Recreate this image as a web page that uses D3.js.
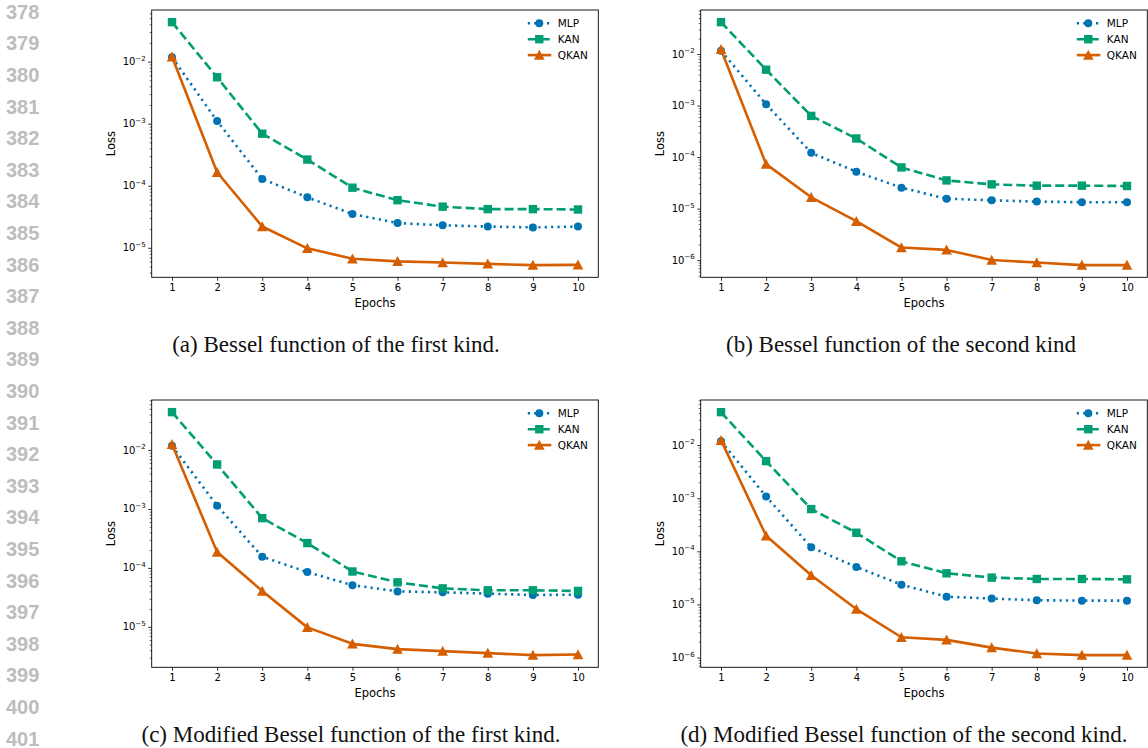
<!DOCTYPE html>
<html>
<head>
<meta charset="utf-8">
<script src="https://cdn.jsdelivr.net/npm/d3@7"></script>
<style>
  body { margin: 0; background: #fff; }
  svg { display: block; }
</style>
</head>
<body>
<div id="fig"></div>
<script>
const epochs = [1, 2, 3, 4, 5, 6, 7, 8, 9, 10];
const seriesNames = ["MLP", "KAN", "QKAN"];

// (a) Bessel, first kind
const mlpA  = [1.18e-2, 1.1e-3, 1.29e-4, 6.5e-5, 3.5e-5, 2.5e-5, 2.3e-5, 2.2e-5, 2.13e-5, 2.2e-5];
const kanA  = [4.33e-2, 5.6e-3, 6.9e-4, 2.64e-4, 9.3e-5, 5.85e-5, 4.6e-5, 4.2e-5, 4.2e-5, 4.14e-5];
const qkanA = [1.2e-2, 1.65e-4, 2.2e-5, 9.8e-6, 6.67e-6, 6.04e-6, 5.8e-6, 5.5e-6, 5.25e-6, 5.3e-6];
// (b) Bessel, second kind
const mlpB  = [1.16e-2, 1.06e-3, 1.21e-4, 5.2e-5, 2.55e-5, 1.56e-5, 1.45e-5, 1.37e-5, 1.33e-5, 1.33e-5];
const kanB  = [4.16e-2, 4.97e-3, 6.3e-4, 2.3e-4, 6.3e-5, 3.53e-5, 2.96e-5, 2.79e-5, 2.79e-5, 2.75e-5];
const qkanB = [1.23e-2, 7.3e-5, 1.66e-5, 5.7e-6, 1.76e-6, 1.58e-6, 1.01e-6, 9.0e-7, 8.0e-7, 8.0e-7];
// (c) modified Bessel, first kind
const mlpC  = [1.18e-2, 1.14e-3, 1.55e-4, 8.5e-5, 5.1e-5, 4.0e-5, 3.85e-5, 3.66e-5, 3.47e-5, 3.52e-5];
const kanC  = [4.4e-2, 5.7e-3, 7.0e-4, 2.64e-4, 8.7e-5, 5.7e-5, 4.5e-5, 4.17e-5, 4.17e-5, 4.07e-5];
const qkanC = [1.25e-2, 1.86e-4, 4.07e-5, 9.8e-6, 5.15e-6, 4.19e-6, 3.88e-6, 3.58e-6, 3.31e-6, 3.4e-6];
// (d) modified Bessel, second kind
const mlpD  = [1.19e-2, 1.08e-3, 1.19e-4, 5.07e-5, 2.36e-5, 1.40e-5, 1.29e-5, 1.2e-5, 1.18e-5, 1.18e-5];
const kanD  = [4.18e-2, 5.0e-3, 6.25e-4, 2.24e-4, 6.5e-5, 3.86e-5, 3.2e-5, 3.02e-5, 3.02e-5, 2.97e-5];
const qkanD = [1.24e-2, 1.97e-4, 3.54e-5, 8.2e-6, 2.41e-6, 2.15e-6, 1.54e-6, 1.19e-6, 1.11e-6, 1.11e-6];

const captions = [
  "(a) Bessel function of the first kind.",
  "(b) Bessel function of the second kind",
  "(c) Modified Bessel function of the first kind.",
  "(d) Modified Bessel function of the second kind."
];
const lineNumbers = d3.range(378, 402);

const colors = { MLP: "#0173B2", KAN: "#029E73", QKAN: "#D55E00" };
const dashes = { MLP: "2.2,4.2", KAN: "9,4", QKAN: null };

const W = 1148, H = 748;
const font = "'DejaVu Sans', sans-serif";

const svg = d3.select("#fig").append("svg")
  .attr("width", W).attr("height", H);
svg.append("rect").attr("width", W).attr("height", H).attr("fill", "#fff");

// line numbers down the left margin
svg.append("g").selectAll("text").data(lineNumbers).enter().append("text")
  .attr("x", 6)
  .attr("y", (d, i) => 11.7 + i * 31.6)
  .attr("dominant-baseline", "central")
  .attr("font-family", "'Liberation Sans', Arial, sans-serif")
  .attr("font-weight", "bold")
  .attr("font-size", 20)
  .attr("fill", "#bdbdbd")
  .text(d => d);

const panels = [
  { series: [mlpA, kanA, qkanA], left: 151.7, top: 10,  right: 598.3,  bottom: 277.3, capX: 336, capY: 352 },
  { series: [mlpB, kanB, qkanB], left: 700.7, top: 10,  right: 1147.3, bottom: 277.3, capX: 901, capY: 352 },
  { series: [mlpC, kanC, qkanC], left: 151.7, top: 400, right: 598.3,  bottom: 667.3, capX: 351, capY: 742 },
  { series: [mlpD, kanD, qkanD], left: 700.7, top: 400, right: 1147.3, bottom: 667.3, capX: 904, capY: 742 }
];

const supers = { "-1": "\u22121", "-2": "\u22122", "-3": "\u22123", "-4": "\u22124", "-5": "\u22125", "-6": "\u22126", "-7": "\u22127" };

panels.forEach((p, pi) => {
  const g = svg.append("g");

  // matplotlib-style autoscale: 5% margins (log space on y)
  const x = d3.scaleLinear().domain([0.55, 10.45]).range([p.left, p.right]);
  const all = p.series.flat();
  const lo = Math.log10(d3.min(all)), hi = Math.log10(d3.max(all));
  const pad = (hi - lo) * 0.05;
  const y = d3.scaleLog().domain([Math.pow(10, lo - pad), Math.pow(10, hi + pad)])
    .range([p.bottom, p.top]);

  const [d0, d1] = y.domain();
  const majors = [], minors = [];
  for (let e = Math.floor(Math.log10(d0)); e <= Math.ceil(Math.log10(d1)); e++) {
    for (let m = 1; m < 10; m++) {
      const v = m * Math.pow(10, e);
      if (v < d0 || v > d1) continue;
      (m === 1 ? majors : minors).push(v);
    }
  }

  // x axis
  const xAxis = g.append("g")
    .attr("transform", `translate(0,${p.bottom})`)
    .call(d3.axisBottom(x).tickValues(epochs).tickSize(3.5).tickPadding(3));
  xAxis.select(".domain").remove();
  xAxis.selectAll("text").attr("font-family", font).attr("font-size", 10).attr("fill", "#000");
  xAxis.selectAll("line").attr("stroke", "#000").attr("stroke-width", 0.8);

  // y axis, minor then major ticks
  const yMinor = g.append("g")
    .attr("transform", `translate(${p.left},0)`)
    .call(d3.axisLeft(y).tickValues(minors).tickSize(2).tickFormat(""));
  yMinor.select(".domain").remove();
  yMinor.selectAll("line").attr("stroke", "#000").attr("stroke-width", 0.6);

  const yMajor = g.append("g")
    .attr("transform", `translate(${p.left},0)`)
    .call(d3.axisLeft(y).tickValues(majors).tickSize(3.5).tickFormat(""));
  yMajor.select(".domain").remove();
  yMajor.selectAll("line").attr("stroke", "#000").attr("stroke-width", 0.8);

  majors.forEach(v => {
    const e = Math.round(Math.log10(v));
    const t = g.append("text")
      .attr("x", p.left - 6)
      .attr("y", y(v) + 3.5)
      .attr("text-anchor", "end")
      .attr("font-family", font)
      .attr("font-size", 10)
      .attr("fill", "#000");
    t.append("tspan").text("10");
    t.append("tspan").attr("font-size", 7).attr("dy", -4.5).text(supers[String(e)]);
  });

  // frame
  g.append("rect")
    .attr("x", p.left).attr("y", p.top)
    .attr("width", p.right - p.left).attr("height", p.bottom - p.top)
    .attr("fill", "none").attr("stroke", "#000").attr("stroke-width", 0.9);

  // axis labels
  g.append("text")
    .attr("x", (p.left + p.right) / 2)
    .attr("y", p.bottom + 30)
    .attr("text-anchor", "middle")
    .attr("font-family", font).attr("font-size", 11.5)
    .text("Epochs");
  g.append("text")
    .attr("transform", `translate(${p.left - 37},${(p.top + p.bottom) / 2}) rotate(-90)`)
    .attr("text-anchor", "middle")
    .attr("font-family", font).attr("font-size", 11.5)
    .text("Loss");

  const line = d3.line().x((d, i) => x(epochs[i])).y(d => y(d));

  p.series.forEach((vals, si) => {
    const name = seriesNames[si];
    const c = colors[name];
    g.append("path")
      .datum(vals)
      .attr("d", line)
      .attr("fill", "none")
      .attr("stroke", c)
      .attr("stroke-width", 2.6)
      .attr("stroke-linejoin", "round")
      .attr("stroke-dasharray", dashes[name]);
    drawMarkers(g, name, vals.map((v, i) => [x(epochs[i]), y(v)]), c);
  });

  // legend
  const lg = g.append("g");
  seriesNames.forEach((name, i) => {
    const ly = p.top + 13.3 + i * 15.9;
    const c = colors[name];
    lg.append("line")
      .attr("x1", p.right - 70.5).attr("x2", p.right - 47)
      .attr("y1", ly).attr("y2", ly)
      .attr("stroke", c).attr("stroke-width", 2.6)
      .attr("stroke-dasharray", dashes[name]);
    drawMarkers(lg, name, [[p.right - 59, ly]], c);
    lg.append("text")
      .attr("x", p.right - 40.5).attr("y", ly)
      .attr("dominant-baseline", "central")
      .attr("font-family", font).attr("font-size", 10.5)
      .text(name);
  });

  // caption
  svg.append("text")
    .attr("x", p.capX).attr("y", p.capY)
    .attr("text-anchor", "middle")
    .attr("font-family", "'Liberation Serif', 'Times New Roman', serif")
    .attr("font-size", 23)
    .attr("fill", "#111")
    .text(captions[pi]);
});

function drawMarkers(g, name, pts, c) {
  if (name === "MLP") {
    g.selectAll(null).data(pts).enter().append("circle")
      .attr("cx", d => d[0]).attr("cy", d => d[1]).attr("r", 4)
      .attr("fill", c);
  } else if (name === "KAN") {
    g.selectAll(null).data(pts).enter().append("rect")
      .attr("x", d => d[0] - 4.2).attr("y", d => d[1] - 4.2)
      .attr("width", 8.4).attr("height", 8.4)
      .attr("fill", c);
  } else {
    g.selectAll(null).data(pts).enter().append("path")
      .attr("d", d => `M${d[0]},${d[1] - 5.3}L${d[0] - 5.3},${d[1] + 4.7}L${d[0] + 5.3},${d[1] + 4.7}Z`)
      .attr("fill", c);
  }
}
</script>
</body>
</html>
